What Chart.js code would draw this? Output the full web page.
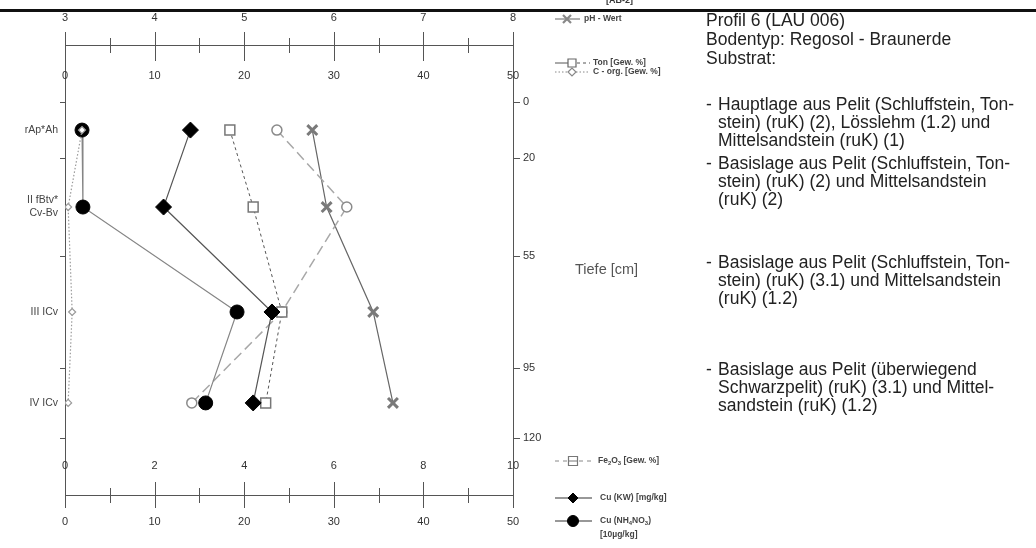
<!DOCTYPE html>
<html>
<head>
<meta charset="utf-8">
<script src="https://cdn.jsdelivr.net/npm/chart.js@4.4.0/dist/chart.umd.min.js"></script>
<style>
  body { margin: 0; background: #fff; }
  #wrap { position: relative; width: 1036px; height: 548px; overflow: hidden; }
  #profile { position: absolute; left: 0; top: 0; }
  .t { position: absolute; font-family: Arial, "Liberation Sans", sans-serif; font-size: 17.5px;
       line-height: 18px; color: #222; white-space: nowrap; }
</style>
</head>
<body>
<div id="wrap">
  <canvas id="profile" width="1036" height="548"></canvas>

  <div class="t" style="left:706px;top:11px">Profil 6 (LAU 006)</div>
  <div class="t" style="left:706px;top:30px">Bodentyp: Regosol - Braunerde</div>
  <div class="t" style="left:706px;top:49px">Substrat:</div>

  <div class="t" style="left:706px;top:95px">-</div>
  <div class="t" style="left:718px;top:95px">Hauptlage aus Pelit (Schluffstein, Ton-</div>
  <div class="t" style="left:718px;top:113px">stein) (ruK) (2), Lösslehm (1.2) und</div>
  <div class="t" style="left:718px;top:131px">Mittelsandstein (ruK) (1)</div>

  <div class="t" style="left:706px;top:154px">-</div>
  <div class="t" style="left:718px;top:154px">Basislage aus Pelit (Schluffstein, Ton-</div>
  <div class="t" style="left:718px;top:172px">stein) (ruK) (2) und Mittelsandstein</div>
  <div class="t" style="left:718px;top:190px">(ruK) (2)</div>

  <div class="t" style="left:706px;top:253px">-</div>
  <div class="t" style="left:718px;top:253px">Basislage aus Pelit (Schluffstein, Ton-</div>
  <div class="t" style="left:718px;top:271px">stein) (ruK) (3.1) und Mittelsandstein</div>
  <div class="t" style="left:718px;top:289px">(ruK) (1.2)</div>

  <div class="t" style="left:706px;top:360px">-</div>
  <div class="t" style="left:718px;top:360px">Basislage aus Pelit (überwiegend</div>
  <div class="t" style="left:718px;top:378px">Schwarzpelit) (ruK) (3.1) und Mittel-</div>
  <div class="t" style="left:718px;top:396px">sandstein (ruK) (1.2)</div>
</div>
<script>
// horizons and the depth (cm) each sample is plotted at (middle of the horizon)
const horizons = ['rAp*Ah', 'II fBtv*\nCv-Bv', 'III ICv', 'IV ICv'];
const depthMid = [10, 37.5, 75, 107.5];
const depthTicks = [0, 20, 55, 95, 120];

// measured values per horizon
const phValues = [5.76, 5.92, 6.44, 6.66];
const tonValues = [18.4, 21.0, 24.2, 22.4];
const cOrgValues = [1.9, 0.35, 0.8, 0.35];
const fe2o3Values = [4.73, 6.29, 4.84, 2.83];
const cuKwValues = [14.0, 11.0, 23.1, 21.0];
const cuNh4Values = [1.9, 2.0, 19.2, 15.7];

// axis tick labels
const phTicks = [3, 4, 5, 6, 7, 8];
const tonTicks = [0, 10, 20, 30, 40, 50];
const feTicks = [0, 2, 4, 6, 8, 10];
const cuTicks = [0, 10, 20, 30, 40, 50];

const FONT = 'Arial, "Liberation Sans", sans-serif';
const pts = vals => vals.map((v, i) => ({ x: v, y: depthMid[i] }));

// first dataset is painted last (on top)
const datasets = [
  { label: 'C - org.', data: pts(cOrgValues), xAxisID: 'xTon',
    borderColor: '#9a9a9a', borderWidth: 1.2, borderDash: [1.5, 2],
    pointStyle: 'rectRot', pointRadius: 3.5, pointBackgroundColor: '#fff',
    pointBorderColor: '#999', pointBorderWidth: 1.2 },
  { label: 'Cu (NH4NO3)', data: pts(cuNh4Values), xAxisID: 'xCu',
    borderColor: '#858585', borderWidth: 1.2,
    pointStyle: 'circle', pointRadius: 7, pointBackgroundColor: '#000',
    pointBorderColor: '#000', pointBorderWidth: 1 },
  { label: 'Cu (KW)', data: pts(cuKwValues), xAxisID: 'xCu',
    borderColor: '#555', borderWidth: 1.2,
    pointStyle: 'rectRot', pointRadius: 8, pointBackgroundColor: '#000',
    pointBorderColor: '#000', pointBorderWidth: 1 },
  { label: 'Ton', data: pts(tonValues), xAxisID: 'xTon',
    borderColor: '#555', borderWidth: 1, borderDash: [3, 3],
    pointStyle: 'rect', pointRadius: 7, pointBackgroundColor: '#fff',
    pointBorderColor: '#777', pointBorderWidth: 1.5 },
  { label: 'Fe2O3', data: pts(fe2o3Values), xAxisID: 'xFe',
    borderColor: '#a8a8a8', borderWidth: 1.5, borderDash: [10, 5],
    pointStyle: 'circle', pointRadius: 5, pointBackgroundColor: '#fff',
    pointBorderColor: '#8a8a8a', pointBorderWidth: 1.5 },
  { label: 'pH', data: pts(phValues), xAxisID: 'xPH',
    borderColor: '#666', borderWidth: 1.2,
    pointStyle: 'crossRot', pointRadius: 7, pointBorderColor: '#7a7a7a',
    pointBorderWidth: 3 }
];
datasets.forEach(d => { d.yAxisID = 'y'; d.fill = false; d.tension = 0; });

function marker(ctx, style, x, y, r, fill, stroke, lw) {
  ctx.save();
  ctx.setLineDash([]);
  ctx.fillStyle = fill; ctx.strokeStyle = stroke; ctx.lineWidth = lw;
  ctx.beginPath();
  if (style === 'circle') ctx.arc(x, y, r, 0, Math.PI * 2);
  else if (style === 'rect') ctx.rect(x - r, y - r, 2 * r, 2 * r);
  else if (style === 'rectRot') {
    ctx.moveTo(x - r, y); ctx.lineTo(x, y - r); ctx.lineTo(x + r, y); ctx.lineTo(x, y + r); ctx.closePath();
  } else if (style === 'crossRot') {
    ctx.moveTo(x - r, y - r); ctx.lineTo(x + r, y + r); ctx.moveTo(x + r, y - r); ctx.lineTo(x - r, y + r);
  }
  if (style !== 'crossRot') ctx.fill();
  ctx.stroke();
  ctx.restore();
}

function seg(ctx, x1, x2, y, color, width, dash) {
  ctx.save();
  ctx.strokeStyle = color; ctx.lineWidth = width; ctx.setLineDash(dash || []);
  ctx.beginPath(); ctx.moveTo(x1, y); ctx.lineTo(x2, y); ctx.stroke();
  ctx.restore();
}

// text with subscript parts: [[text, isSub], ...]
function subText(ctx, parts, x, y, size) {
  let cx = x;
  parts.forEach(([s, sub]) => {
    ctx.font = 'bold ' + (sub ? size * 0.7 : size) + 'px ' + FONT;
    ctx.fillText(s, cx, sub ? y + 2.5 : y);
    cx += ctx.measureText(s).width;
  });
}

const profileAxes = {
  id: 'profileAxes',
  beforeDatasetsDraw(chart) {
    const { ctx, chartArea: a, scales } = chart;
    ctx.save();
    ctx.fillStyle = '#111';
    ctx.fillRect(0, 9, 1036, 3);

    ctx.strokeStyle = '#555';
    ctx.lineWidth = 1;
    const vline = (x, y1, y2) => { x = Math.round(x) + 0.5; ctx.beginPath(); ctx.moveTo(x, y1); ctx.lineTo(x, y2); ctx.stroke(); };
    const hline = (y, x1, x2) => { y = Math.round(y) + 0.5; ctx.beginPath(); ctx.moveTo(x1, y); ctx.lineTo(x2, y); ctx.stroke(); };

    vline(a.left, a.top - 13, a.bottom + 13);
    vline(a.right, a.top - 13, a.bottom + 13);
    hline(a.top, a.left, a.right);
    hline(a.bottom, a.left, a.right);

    phTicks.forEach(v => {
      vline(scales.xPH.getPixelForValue(v), a.top - 13, a.top + 16);
      if (v < 8) vline(scales.xPH.getPixelForValue(v + 0.5), a.top - 7, a.top + 8);
    });
    feTicks.forEach(v => {
      vline(scales.xFe.getPixelForValue(v), a.bottom - 13, a.bottom + 13);
      if (v < 10) vline(scales.xFe.getPixelForValue(v + 1), a.bottom - 7, a.bottom + 8);
    });
    depthTicks.forEach(d => {
      const y = scales.y.getPixelForValue(d);
      hline(y, a.right, a.right + 7);
      hline(y, a.left - 5, a.left);
    });
    ctx.restore();
  },
  afterDraw(chart) {
    const { ctx, chartArea: a, scales } = chart;
    ctx.save();
    ctx.fillStyle = '#333';
    ctx.font = '11px ' + FONT;
    ctx.textAlign = 'center';
    ctx.textBaseline = 'middle';
    phTicks.forEach(v => ctx.fillText(String(v), scales.xPH.getPixelForValue(v), a.top - 27));
    tonTicks.forEach(v => ctx.fillText(String(v), scales.xTon.getPixelForValue(v), a.top + 31));
    feTicks.forEach(v => ctx.fillText(String(v), scales.xFe.getPixelForValue(v), a.bottom - 29));
    cuTicks.forEach(v => ctx.fillText(String(v), scales.xCu.getPixelForValue(v), a.bottom + 27));

    ctx.textAlign = 'left';
    depthTicks.forEach(d => ctx.fillText(String(d), a.right + 10, scales.y.getPixelForValue(d)));

    // horizon names left of the profile
    ctx.font = '10.5px ' + FONT;
    ctx.fillStyle = '#444';
    ctx.textAlign = 'right';
    horizons.forEach((h, i) => {
      const lines = h.split('\n');
      const y0 = scales.y.getPixelForValue(depthMid[i]) - (lines.length - 1) * 6.5;
      lines.forEach((l, k) => ctx.fillText(l, a.left - 7, y0 + k * 13));
    });

    ctx.textAlign = 'left';
    ctx.font = '14.5px ' + FONT;
    ctx.fillStyle = '#555';
    ctx.fillText('Tiefe [cm]', 575, 270);

    // clipped heading above the rule
    ctx.font = 'bold 9px ' + FONT;
    ctx.fillStyle = '#333';
    ctx.textBaseline = 'alphabetic';
    ctx.fillText('[AB-2]', 606, 3);

    // legend
    ctx.textBaseline = 'middle';
    ctx.fillStyle = '#444';
    const lf = 8.5;
    seg(ctx, 555, 580, 19, '#999', 1.5);
    marker(ctx, 'crossRot', 567, 19, 4, '#fff', '#888', 2.2);
    subText(ctx, [['pH - Wert', false]], 584, 19, lf);

    seg(ctx, 555, 568, 63, '#555', 1);
    seg(ctx, 577, 590, 63, '#555', 1, [3, 3]);
    marker(ctx, 'rect', 572, 63, 4, '#fff', '#666', 1.2);
    subText(ctx, [['Ton [Gew. %]', false]], 593, 63, lf);

    seg(ctx, 555, 590, 72, '#888', 1, [1.5, 2]);
    marker(ctx, 'rectRot', 572, 72, 4, '#fff', '#888', 1.2);
    subText(ctx, [['C - org. [Gew. %]', false]], 593, 72, lf);

    seg(ctx, 555, 592, 461, '#888', 1, [4, 4]);
    marker(ctx, 'rect', 573, 461, 4.5, '#fff', '#777', 1.2);
    seg(ctx, 569, 577, 461, '#777', 1);
    subText(ctx, [['Fe', false], ['2', true], ['O', false], ['3', true], [' [Gew. %]', false]], 598, 461, lf);

    seg(ctx, 555, 592, 498, '#333', 1.2);
    marker(ctx, 'rectRot', 573, 498, 5, '#000', '#000', 1);
    subText(ctx, [['Cu (KW) [mg/kg]', false]], 600, 498, lf);

    seg(ctx, 555, 592, 521, '#333', 1.2);
    marker(ctx, 'circle', 573, 521, 5.5, '#000', '#000', 1);
    subText(ctx, [['Cu (NH', false], ['4', true], ['NO', false], ['3', true], [')', false]], 600, 521, lf);
    subText(ctx, [['[10µg/kg]', false]], 600, 535, lf);
    ctx.restore();
  }
};

new Chart(document.getElementById('profile'), {
  type: 'line',
  data: { datasets },
  options: {
    responsive: false,
    animation: false,
    layout: { padding: { left: 65, top: 45, right: 523, bottom: 53 } },
    plugins: { legend: { display: false }, tooltip: { enabled: false } },
    scales: {
      y: { type: 'linear', reverse: true, min: -20.4, max: 140.4, display: false },
      xPH: { type: 'linear', min: 3, max: 8, display: false },
      xTon: { type: 'linear', min: 0, max: 50, display: false },
      xFe: { type: 'linear', min: 0, max: 10, display: false },
      xCu: { type: 'linear', min: 0, max: 50, display: false }
    }
  },
  plugins: [profileAxes]
});
</script>
</body>
</html>
